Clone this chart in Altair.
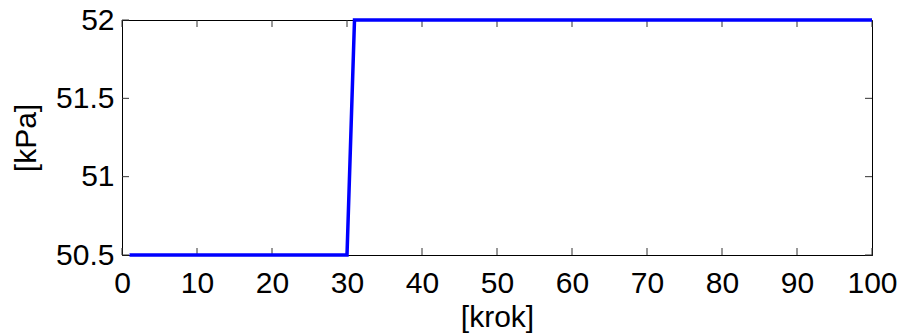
import altair as alt
import pandas as pd

# step signal
step_x = [1, 30, 31, 100]
step_y = [50.5, 50.5, 52.0, 52.0]

x_ticks = [0, 10, 20, 30, 40, 50, 60, 70, 80, 90, 100]
y_ticks = [50.5, 51.0, 51.5, 52.0]

line_df = pd.DataFrame({"k": step_x, "p": step_y})
xt_df = pd.DataFrame({"t": x_ticks})
yt_df = pd.DataFrame({"t": y_ticks})

FONT = "Liberation Sans"
FS = 30
W, H = 750, 235
TL = 7
tick_color = "#333333"

xscale = alt.Scale(domain=[0, 100], nice=False, zero=False)
yscale = alt.Scale(domain=[50.5, 52], nice=False, zero=False)

line = alt.Chart(line_df).mark_line(color="#0000FF", strokeWidth=3.5).encode(
    x=alt.X("k:Q", scale=xscale, title="[krok]",
            axis=alt.Axis(values=x_ticks, tickSize=0, labelPadding=37, labelBaseline="alphabetic",
                          labelFontSize=FS, titleFontSize=FS, labelFont=FONT, titleFont=FONT,
                          titleFontWeight="normal", labelColor="black", titleColor="black",
                          domainColor="black", grid=False, titleY=71, titleBaseline="alphabetic",
                          labelFlush=False, labelOverlap=False)),
    y=alt.Y("p:Q", scale=yscale, title="[kPa]",
            axis=alt.Axis(values=y_ticks, tickSize=0, labelPadding=8, labelBaseline="middle",
                          labelFontSize=FS, titleFontSize=FS, labelFont=FONT, titleFont=FONT,
                          titleFontWeight="normal", labelColor="black", titleColor="black",
                          domainColor="black", grid=False, titleX=-96, titleY=117.5,
                          titleAlign="center", titleBaseline="middle",
                          labelFlush=False, labelOverlap=False, format="~g")),
)

bottom = alt.Chart(xt_df).mark_rule(color=tick_color, strokeWidth=1).encode(
    x=alt.X("t:Q", scale=xscale), y=alt.value(H), y2=alt.value(H - TL))
top = alt.Chart(xt_df).mark_rule(color=tick_color, strokeWidth=1).encode(
    x=alt.X("t:Q", scale=xscale), y=alt.value(0), y2=alt.value(TL))
left = alt.Chart(yt_df).mark_rule(color=tick_color, strokeWidth=1).encode(
    y=alt.Y("t:Q", scale=yscale), x=alt.value(0), x2=alt.value(TL))
right = alt.Chart(yt_df).mark_rule(color=tick_color, strokeWidth=1).encode(
    y=alt.Y("t:Q", scale=yscale), x=alt.value(W), x2=alt.value(W - TL))

chart = alt.layer(bottom, top, left, right, line).properties(
    width=W, height=H,
    autosize=alt.AutoSizeParams(type="none"),
    padding={"left": 122, "top": 20, "right": 28, "bottom": 78},
    background="white",
).configure_view(stroke="black", strokeWidth=1)

chart.save("out.html", embed_options={"renderer": "svg", "actions": False})
